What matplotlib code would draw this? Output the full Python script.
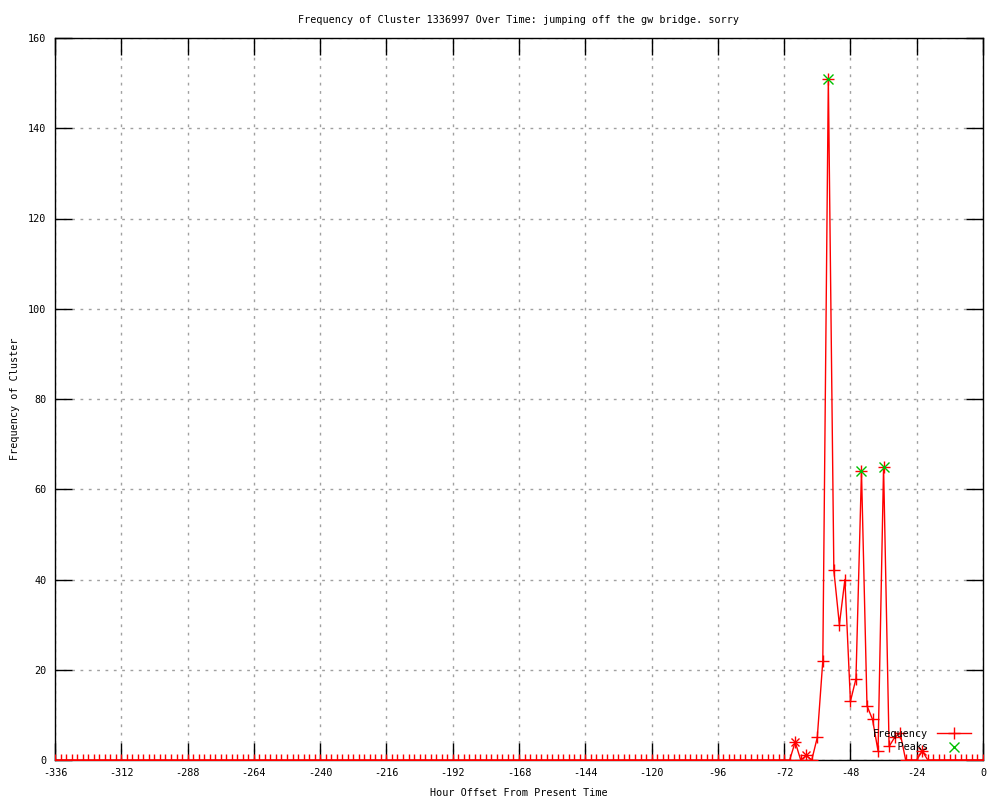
import numpy as np
import matplotlib
matplotlib.use("Agg")
import matplotlib.pyplot as plt

plt.rcParams['font.family'] = ['DejaVu Sans Mono']
plt.rcParams['axes.unicode_minus'] = False

hours = np.arange(-336, 1, 2)
frequency = [
    0, 0, 0, 0, 0, 0, 0, 0, 0, 0, 0, 0, 0, 0, 0, 0, 0, 0, 0, 0,
    0, 0, 0, 0, 0, 0, 0, 0, 0, 0, 0, 0, 0, 0, 0, 0, 0, 0, 0, 0,
    0, 0, 0, 0, 0, 0, 0, 0, 0, 0, 0, 0, 0, 0, 0, 0, 0, 0, 0, 0,
    0, 0, 0, 0, 0, 0, 0, 0, 0, 0, 0, 0, 0, 0, 0, 0, 0, 0, 0, 0,
    0, 0, 0, 0, 0, 0, 0, 0, 0, 0, 0, 0, 0, 0, 0, 0, 0, 0, 0, 0,
    0, 0, 0, 0, 0, 0, 0, 0, 0, 0, 0, 0, 0, 0, 0, 0, 0, 0, 0, 0,
    0, 0, 0, 0, 0, 0, 0, 0, 0, 0, 0, 0, 0, 0,
    # -68 .. 0
    4, 0, 1, 0, 5, 22, 151, 42, 30, 40, 13, 18, 64, 12, 9, 2, 65, 3, 5, 6,
    0, 0, 0, 2, 0, 0, 0, 0, 0, 0, 0, 0, 0, 0, 0,
]
assert len(frequency) == len(hours)

peak_hours = [-56, -44, -36]
peak_values = [151, 64, 65]
minor_peak_hours = [-68, -64, -22]
minor_peak_values = [4, 1, 2]

xticks = list(range(-336, 1, 24))
yticks = list(range(0, 161, 20))

FS = 7.3

fig = plt.figure(figsize=(10, 8), dpi=100)
ax = fig.add_axes([0.055, 0.05, 0.928, 0.9025])

ax.plot(hours, frequency, color='#ff0000', lw=1.0, marker='+', ms=9, mew=1.0,
        label='Frequency', zorder=3)
ax.plot(minor_peak_hours, minor_peak_values, ls='none', marker='x', ms=6,
        mew=1.0, color='#ff0000', zorder=3)
ax.plot(peak_hours, peak_values, ls='none', marker='x', ms=7, mew=1.0,
        color='#00c000', label='    Peaks', zorder=4)

ax.set_xlim(-336, 0)
ax.set_ylim(0, 160)
ax.set_xticks(xticks)
ax.set_yticks(yticks)
ax.tick_params(direction='in', length=12, width=1, top=True, right=True,
               labelsize=FS, pad=6, colors='black')
ax.grid(True, color='#a0a0a0', linestyle=(0, (2, 4)), linewidth=1)
for s in ax.spines.values():
    s.set_linewidth(1)
    s.set_color('black')

ax.set_title('Frequency of Cluster 1336997 Over Time: jumping off the gw bridge. sorry',
             fontsize=FS, pad=11)
ax.set_xlabel('Hour Offset From Present Time', fontsize=FS, labelpad=7)
ax.set_ylabel('Frequency of Cluster', fontsize=FS, labelpad=6)

leg = ax.legend(loc='lower right', bbox_to_anchor=(0.995, 0.001), markerfirst=False,
                frameon=False, fontsize=FS, handlelength=3.4, handletextpad=0.9,
                labelspacing=0.35, borderaxespad=0.3)

fig.savefig('out.png', dpi=100)
